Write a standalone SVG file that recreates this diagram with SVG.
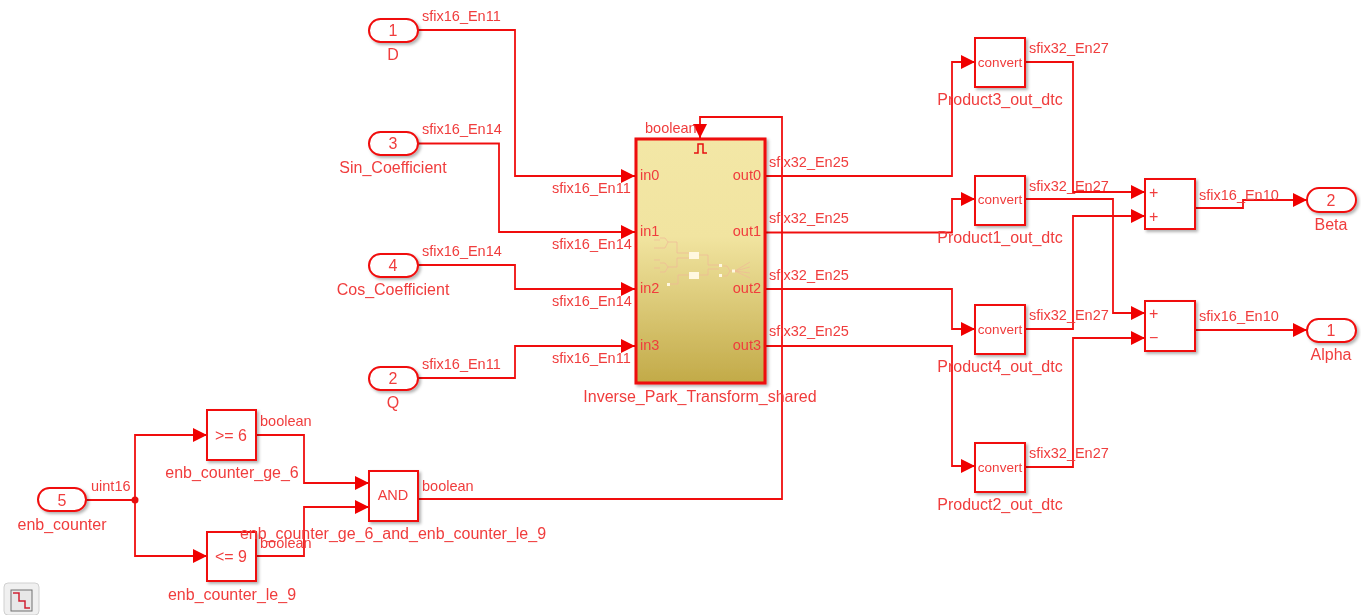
<svg xmlns="http://www.w3.org/2000/svg" width="1361" height="615" viewBox="0 0 1361 615">
<style>
text{font-family:"Liberation Sans",Arial,sans-serif;font-size:14.500px;fill:#f03c3c}
.l{font-size:16px}
.c{text-anchor:middle}
.e{text-anchor:end}
.s{font-size:13.500px}
.b{fill:#fff;stroke:#f01010;stroke-width:2;filter:url(#sh)}
.w{fill:none;stroke:#f01010;stroke-width:1.800;marker-end:url(#a)}
.n{fill:none;stroke:#f01010;stroke-width:1.800}
.i path{fill:none;stroke:#f0b898;stroke-width:.7}
.i rect{fill:#fff8e0}
</style>
<defs>
<marker id="a" markerUnits="userSpaceOnUse" markerWidth="15" markerHeight="15" refX="14" refY="7" orient="auto"><path d="M0 0L14 7L0 14Z" fill="#f00000"/></marker>
<linearGradient id="g" x1="0" y1="0" x2="0" y2="1"><stop offset="0" stop-color="#f3e7a6"/><stop offset=".4" stop-color="#f1e4a0"/><stop offset="1" stop-color="#c2aa48"/></linearGradient>
<filter id="sh" x="-20%" y="-20%" width="145%" height="145%"><feDropShadow dx="2" dy="2" stdDeviation="1.500" flood-color="#000" flood-opacity=".3"/></filter>
<filter id="soft" filterUnits="userSpaceOnUse" x="0" y="0" width="1361" height="615"><feGaussianBlur stdDeviation=".45"/></filter>
</defs>
<g filter="url(#soft)">
<g id="connectors">
<path class="w" d="M418 30H515V176H635"/>
<path class="w" d="M418 143.500H499V232H635"/>
<path class="w" d="M418 265H515V289H635"/>
<path class="w" d="M418 378H515V346H635"/>
<path class="w" d="M765 176H952V62H975"/>
<path class="w" d="M765 232.500H952V199H975"/>
<path class="w" d="M765 289H952V329H975"/>
<path class="w" d="M765 346H952V466H975"/>
<path class="w" d="M1025 62H1073V192H1145"/>
<path class="w" d="M1025 199H1113V313H1145"/>
<path class="w" d="M1025 329H1073V216H1145"/>
<path class="w" d="M1025 467H1073V338H1145"/>
<path class="w" d="M1195 208H1243V200H1307"/>
<path class="w" d="M1195 330H1307"/>
<path class="w" d="M418 499H782V117H700V138"/>
<path class="n" d="M86 500H135"/>
<path class="w" d="M135 500V435H207"/>
<path class="w" d="M135 500V556H207"/>
<circle cx="135" cy="500" r="3.500" fill="#e81010"/>
<path class="w" d="M256 435H304V483H369"/>
<path class="w" d="M256 556H304V507H369"/>
</g>
<g id="signal-labels">
<text x="422" y="21">sfix16_En11</text>
<text x="422" y="134">sfix16_En14</text>
<text x="422" y="256">sfix16_En14</text>
<text x="422" y="369">sfix16_En11</text>
<text x="552" y="193">sfix16_En11</text>
<text x="552" y="249">sfix16_En14</text>
<text x="552" y="306">sfix16_En14</text>
<text x="552" y="363">sfix16_En11</text>
<text x="769" y="167">sfix32_En25</text>
<text x="769" y="223">sfix32_En25</text>
<text x="769" y="280">sfix32_En25</text>
<text x="769" y="336">sfix32_En25</text>
<text x="1029" y="53">sfix32_En27</text>
<text x="1029" y="191">sfix32_En27</text>
<text x="1029" y="320">sfix32_En27</text>
<text x="1029" y="458">sfix32_En27</text>
<text x="1199" y="200">sfix16_En10</text>
<text x="1199" y="321">sfix16_En10</text>
<text x="645" y="133">boolean</text>
<text x="91" y="491">uint16</text>
<text x="260" y="426">boolean</text>
<text x="260" y="548">boolean</text>
<text x="422" y="491">boolean</text>
</g>
<g id="in-D"><rect class="b" x="369" y="19" width="49" height="23" rx="11.500"/><text class="c l" x="393" y="36">1</text><text class="c l" x="393" y="60">D</text></g>
<g id="in-Sin"><rect class="b" x="369" y="132" width="49" height="23" rx="11.500"/><text class="c l" x="393" y="149">3</text><text class="c l" x="393" y="173">Sin_Coefficient</text></g>
<g id="in-Cos"><rect class="b" x="369" y="254" width="49" height="23" rx="11.500"/><text class="c l" x="393" y="271">4</text><text class="c l" x="393" y="295">Cos_Coefficient</text></g>
<g id="in-Q"><rect class="b" x="369" y="367" width="49" height="23" rx="11.500"/><text class="c l" x="393" y="384">2</text><text class="c l" x="393" y="408">Q</text></g>
<g id="in-enb"><rect class="b" x="38" y="488" width="48" height="23" rx="11.500"/><text class="c l" x="62" y="506">5</text><text class="c l" x="62" y="530">enb_counter</text></g>
<g id="park">
<rect x="636" y="139" width="129" height="244" fill="url(#g)" stroke="#ee0808" stroke-width="3" filter="url(#sh)"/>
<path d="M694 153H698V144H703V153H707" fill="none" stroke="#e81010" stroke-width="1.500"/>
<text x="640" y="180">in0</text><text x="640" y="236">in1</text><text x="640" y="293">in2</text><text x="640" y="350">in3</text>
<text class="e" x="761" y="180">out0</text><text class="e" x="761" y="236">out1</text><text class="e" x="761" y="293">out2</text><text class="e" x="761" y="350">out3</text>
<g class="i">
<path d="M654 240H660M654 248H660M660 238H665L668 242L665 248H660M668 242H677V253H689M654 260H660M654 268H660M660 263H665L668 267L665 272H660M668 267H677V258H689M668 284H678V275H689M699 255H708V265H719M699 275H708V269H719M723 266L727 266L730 271L727 276H723M730 271H733M735 271L750 262M735 271L750 267M735 271L750 273M735 271L750 278"/>
<rect x="689" y="252" width="10" height="7"/><rect x="689" y="272" width="10" height="7"/>
<rect x="719" y="264" width="3" height="3"/><rect x="719" y="274" width="3" height="3"/><rect x="732" y="269.500" width="3" height="3"/>
<rect x="667" y="283" width="3" height="3"/>
</g>
<text class="c l" x="700" y="402">Inverse_Park_Transform_shared</text>
</g>
<g id="Product3"><rect class="b" x="975" y="38" width="50" height="49"/><text class="c s" x="1000" y="67">convert</text><text class="c l" x="1000" y="105">Product3_out_dtc</text></g>
<g id="Product1"><rect class="b" x="975" y="176" width="50" height="49"/><text class="c s" x="1000" y="204">convert</text><text class="c l" x="1000" y="243">Product1_out_dtc</text></g>
<g id="Product4"><rect class="b" x="975" y="305" width="50" height="49"/><text class="c s" x="1000" y="334">convert</text><text class="c l" x="1000" y="372">Product4_out_dtc</text></g>
<g id="Product2"><rect class="b" x="975" y="443" width="50" height="49"/><text class="c s" x="1000" y="472">convert</text><text class="c l" x="1000" y="510">Product2_out_dtc</text></g>
<g id="Sum1"><rect class="b" x="1145" y="179" width="50" height="50"/><text class="l" x="1149" y="198">+</text><text class="l" x="1149" y="222">+</text></g>
<g id="Sum2"><rect class="b" x="1145" y="301" width="50" height="50"/><text class="l" x="1149" y="319">+</text><text class="l" x="1149" y="343">−</text></g>
<g id="out-Beta"><rect class="b" x="1307" y="188" width="49" height="24" rx="12"/><text class="c l" x="1331" y="206">2</text><text class="c l" x="1331" y="230">Beta</text></g>
<g id="out-Alpha"><rect class="b" x="1307" y="319" width="49" height="23" rx="11.500"/><text class="c l" x="1331" y="336">1</text><text class="c l" x="1331" y="360">Alpha</text></g>
<g id="ge6"><rect class="b" x="207" y="410" width="49" height="50"/><text class="c l" x="231" y="441">&gt;= 6</text><text class="c l" x="232" y="478">enb_counter_ge_6</text></g>
<g id="le9"><rect class="b" x="207" y="532" width="49" height="49"/><text class="c l" x="231" y="562">&lt;= 9</text><text class="c l" x="232" y="600">enb_counter_le_9</text></g>
<g id="and"><rect class="b" x="369" y="471" width="49" height="50"/><text class="c" x="393" y="500">AND</text><text class="c l" x="393" y="539">enb_counter_ge_6_and_enb_counter_le_9</text></g>
<g id="fit-button">
<rect x="4" y="583" width="35" height="32" rx="4" fill="#f0f0f0" stroke="#d0d0d0"/>
<rect x="11" y="590" width="21" height="21" fill="#e8e8e8" stroke="#707070"/>
<path d="M13 593H19V601H25V608H30" fill="none" stroke="#d02030" stroke-width="1.500"/>
</g>
</g>
</svg>
